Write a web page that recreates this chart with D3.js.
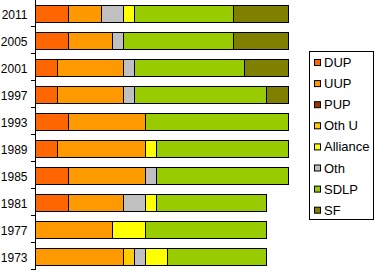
<!DOCTYPE html>
<html lang="en">
<head>
    <meta charset="UTF-8">
    <title>Council seats</title>
    <script src="https://d3js.org/d3.v7.min.js"></script>
    <style>
        body { margin: 0; background: #fff; }
        svg { display: block; font-family: "Liberation Sans", Arial, sans-serif; }
    </style>
</head>
<body>
    <script>
    var w = 375;
    var h = 271;

    var years = ["2011", "2005", "2001", "1997", "1993", "1989", "1985", "1981", "1977", "1973"];
    var DUP      = [3, 3, 2, 2, 3, 2, 3, 3, 0, 0];
    var UUP      = [3, 4, 6, 6, 7, 8, 7, 5, 7, 8];
    var PUP      = [0, 0, 0, 0, 0, 0, 0, 0, 0, 0];
    var OthU     = [0, 0, 0, 0, 0, 0, 0, 0, 0, 1];
    var Oth      = [2, 1, 1, 1, 0, 0, 1, 2, 0, 1];
    var Alliance = [1, 0, 0, 0, 0, 1, 0, 1, 3, 2];
    var SDLP     = [9, 10, 10, 12, 13, 12, 12, 10, 11, 9];
    var SF       = [5, 5, 4, 2, 0, 0, 0, 0, 0, 0];

    // order bars are stacked in
    var stackKeys = ["DUP", "UUP", "PUP", "Oth U", "Oth", "Alliance", "SDLP", "SF"];
    // order shown in the legend
    var legendKeys = ["DUP", "UUP", "PUP", "Oth U", "Alliance", "Oth", "SDLP", "SF"];
    var series = {
        "DUP": DUP, "UUP": UUP, "PUP": PUP, "Oth U": OthU,
        "Alliance": Alliance, "Oth": Oth, "SDLP": SDLP, "SF": SF
    };
    var colors = {
        "DUP": "#ff6600", "UUP": "#ff9900", "PUP": "#993300", "Oth U": "#ffcc00",
        "Alliance": "#ffff00", "Oth": "#c0c0c0", "SDLP": "#99cc00", "SF": "#808000"
    };

    var rows = years.map(function(y, i) {
        var r = { year: y };
        stackKeys.forEach(function(k) { r[k] = series[k][i]; });
        return r;
    });

    var svg = d3.select("body")
        .append("svg")
        .attr("width", w)
        .attr("height", h);

    var x = d3.scaleLinear().domain([0, 23]).range([35, 288]);
    var y = d3.scaleBand().domain(years).range([0, 270])
        .paddingInner(10 / 27).paddingOuter(5 / 27);

    var stacked = d3.stack().keys(stackKeys)(rows);

    svg.selectAll("g.layer")
        .data(stacked)
        .enter()
        .append("g")
        .attr("class", "layer")
        .attr("fill", function(d) { return colors[d.key]; })
        .selectAll("rect")
        .data(function(d) { return d.filter(function(s) { return s[1] > s[0]; }); })
        .enter()
        .append("rect")
        .attr("x", function(d) { return Math.round(x(d[0])) + 0.5; })
        .attr("width", function(d) { return Math.round(x(d[1])) - Math.round(x(d[0])); })
        .attr("y", function(d) { return y(d.data.year) + 0.5; })
        .attr("height", y.bandwidth())
        .attr("stroke", "#000")
        .attr("stroke-width", 1);

    // category axis: line with ticks between bars
    svg.append("line")
        .attr("x1", 35.5).attr("x2", 35.5)
        .attr("y1", 0).attr("y2", 270)
        .attr("stroke", "#000");

    svg.selectAll("line.tick")
        .data(years)
        .enter()
        .append("line")
        .attr("class", "tick")
        .attr("x1", 31).attr("x2", 35)
        .attr("y1", function(d, i) { return Math.round(y.step() * (i + 1)) - 0.5; })
        .attr("y2", function(d, i) { return Math.round(y.step() * (i + 1)) - 0.5; })
        .attr("stroke", "#000");

    svg.selectAll("text.year")
        .data(years)
        .enter()
        .append("text")
        .attr("class", "year")
        .attr("x", 27.5)
        .attr("y", function(d) { return y(d) + y.bandwidth() / 2 + 5; })
        .attr("text-anchor", "end")
        .attr("font-size", 12)
        .text(function(d) { return d; });

    // legend
    var legend = svg.append("g");
    legend.append("rect")
        .attr("x", 309.5).attr("y", 51.5)
        .attr("width", 64).attr("height", 168)
        .attr("fill", "#fff")
        .attr("stroke", "#000");

    var item = legend.selectAll("g.item")
        .data(legendKeys)
        .enter()
        .append("g")
        .attr("class", "item")
        .attr("transform", function(d, i) { return "translate(0," + (62.5 + i * 21.1) + ")"; });

    item.append("rect")
        .attr("x", 314.5).attr("y", -3)
        .attr("width", 6).attr("height", 6)
        .attr("fill", function(d) { return colors[d]; })
        .attr("stroke", "#000");

    item.append("text")
        .attr("x", 324)
        .attr("y", 4.5)
        .attr("font-size", 13)
        .text(function(d) { return d; });
    </script>
</body>
</html>
